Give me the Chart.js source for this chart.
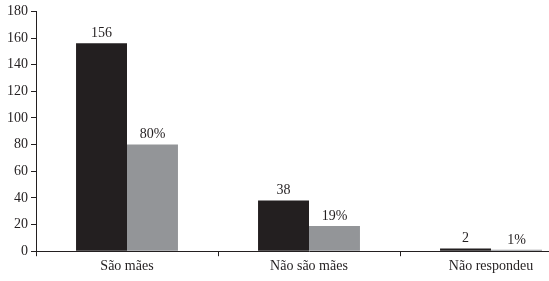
<!DOCTYPE html>
<html>
<head>
<meta charset="UTF-8">
<title>São mães</title>
<script src="https://cdn.jsdelivr.net/npm/chart.js"></script>
<style>
  html, body { margin: 0; padding: 0; background: #fff; overflow: hidden; }
  /* the original figure is cut off on the right, so the chart is wider than the window */
  #wrap { width: 584px; height: 281px; }
</style>
</head>
<body>
<div id="wrap"><canvas id="myChart"></canvas></div>
<script>
  const categories = ['São mães', 'Não são mães', 'Não respondeu'];
  const counts = [156, 38, 2];
  const percents = [80, 19, 1];
  const yTicks = { min: 0, max: 180, step: 20 };

  const serif = "'Liberation Serif', 'DejaVu Serif', serif";

  // writes the value above each bar
  const barLabels = {
    id: 'barLabels',
    afterDatasetsDraw(chart) {
      const ctx = chart.ctx;
      ctx.save();
      ctx.font = '14px ' + serif;
      ctx.fillStyle = '#231f20';
      ctx.textAlign = 'center';
      ctx.textBaseline = 'bottom';
      chart.data.datasets.forEach((ds, i) => {
        chart.getDatasetMeta(i).data.forEach((bar, j) => {
          const txt = i === 1 ? ds.data[j] + '%' : String(ds.data[j]);
          ctx.fillText(txt, bar.x, bar.y - 3);
        });
      });
      ctx.restore();
    }
  };

  new Chart(document.getElementById('myChart'), {
    type: 'bar',
    data: {
      labels: categories,
      datasets: [
        { label: 'n', data: counts, backgroundColor: '#231f20',
          categoryPercentage: 0.56, barPercentage: 1 },
        { label: '%', data: percents, backgroundColor: '#939598',
          categoryPercentage: 0.56, barPercentage: 1 }
      ]
    },
    options: {
      responsive: true,
      maintainAspectRatio: false,
      animation: false,
      layout: { padding: { top: 8, right: 2, left: 4, bottom: 4 } },
      plugins: { legend: { display: false }, tooltip: { enabled: false } },
      scales: {
        x: {
          grid: { drawOnChartArea: false, tickLength: 5, color: '#231f20' },
          border: { color: '#231f20' },
          ticks: { color: '#231f20', font: { family: serif, size: 14 }, padding: 2 }
        },
        y: {
          min: yTicks.min, max: yTicks.max,
          grid: { drawOnChartArea: false, tickLength: 5, color: '#231f20' },
          border: { color: '#231f20' },
          ticks: { stepSize: yTicks.step, color: '#231f20', font: { family: serif, size: 14 }, padding: 3 }
        }
      }
    },
    plugins: [barLabels]
  });
</script>
</body>
</html>
